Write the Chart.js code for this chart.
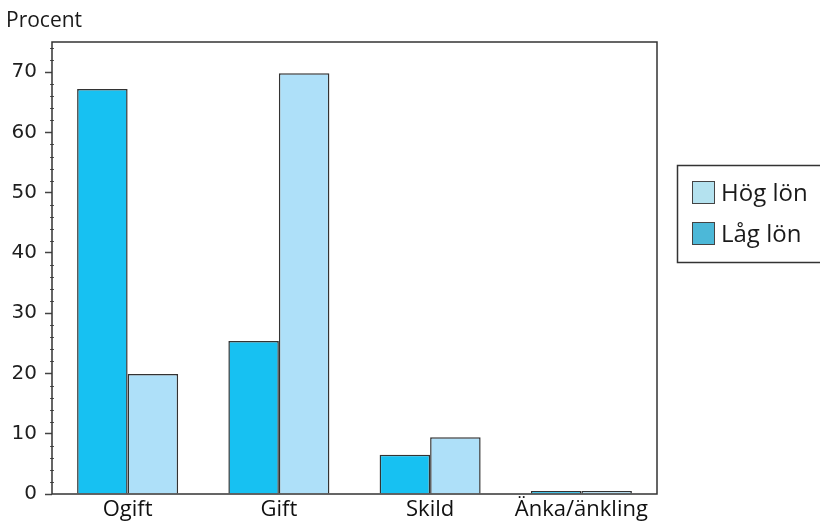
<!DOCTYPE html>
<html>
<head>
<meta charset="utf-8">
<script src="https://cdn.jsdelivr.net/npm/chart.js@4.4.1/dist/chart.umd.min.js"></script>
<style>
  html, body { margin: 0; padding: 0; background: #fff; }
  #wrap { position: relative; width: 820px; height: 525px; }
</style>
</head>
<body>
<div id="wrap"><canvas id="lonChart" width="820" height="525"></canvas></div>
<script>
// data
var categories = ['Ogift', 'Gift', 'Skild', 'Änka/änkling'];
var lagLon     = [67.2, 25.4, 6.5, 0.5];
var hogLon     = [19.9, 69.8, 9.4, 0.5];
var yTicks     = [0, 10, 20, 30, 40, 50, 60, 70];
var yTitle     = 'Procent';
var legendNames = ['Hög lön', 'Låg lön'];

// colours
var darkBlue   = '#17c1f2';
var lightBlue  = '#aee0f9';
var legendCols = ['#b4e2ef', '#4cb8d8'];
var edge       = '#333333';

// frame round the plot, minor ticks, the "Procent" label and the boxed legend
var extrasPlugin = {
  id: 'extras',
  afterDraw: function (chart) {
    var ctx = chart.ctx;
    var area = chart.chartArea;
    var y = chart.scales.y;
    ctx.save();

    // minor ticks every 2
    ctx.strokeStyle = '#555';
    ctx.lineWidth = 1;
    for (var v = 2; v < 75; v += 2) {
      if (v % 10 === 0) continue;
      var py = Math.round(y.getPixelForValue(v)) + 0.5;
      ctx.beginPath();
      ctx.moveTo(area.left - 2, py);
      ctx.lineTo(area.left + 2, py);
      ctx.stroke();
    }

    // frame
    ctx.strokeStyle = edge;
    ctx.lineWidth = 1.5;
    ctx.strokeRect(area.left, area.top, area.right - area.left, area.bottom - area.top);

    // axis title
    ctx.fillStyle = '#1a1a1a';
    ctx.font = '21px "Open Sans"';
    ctx.textBaseline = 'alphabetic';
    ctx.textAlign = 'left';
    ctx.fillText(yTitle, 6, 27);

    // legend
    ctx.strokeStyle = edge;
    ctx.lineWidth = 1.5;
    ctx.strokeRect(677.5, 165.5, 160, 97);
    ctx.font = '24px "Open Sans"';
    ctx.textBaseline = 'middle';
    for (var i = 0; i < legendNames.length; i++) {
      var top = 181 + i * 41;
      ctx.fillStyle = legendCols[i];
      ctx.fillRect(692, top, 22, 22);
      ctx.strokeStyle = '#444';
      ctx.lineWidth = 1;
      ctx.strokeRect(692.5, top + 0.5, 22, 22);
      ctx.fillStyle = '#1a1a1a';
      ctx.fillText(legendNames[i], 721, top + 13);
    }
    ctx.restore();
  }
};

var ctx = document.getElementById('lonChart').getContext('2d');
var lonChart = new Chart(ctx, {
  type: 'bar',
  data: {
    labels: categories,
    datasets: [
      {
        label          : 'Låg lön',
        data           : lagLon,
        backgroundColor: darkBlue,
        borderColor    : edge,
        borderWidth    : 1.5
      },
      {
        label          : 'Hög lön',
        data           : hogLon,
        backgroundColor: lightBlue,
        borderColor    : edge,
        borderWidth    : 1.5
      }
    ]
  },
  options: {
    responsive: false,
    animation: false,
    layout: { padding: { top: 42, right: 163, left: 0, bottom: 0 } },
    datasets: {
      bar: { categoryPercentage: 0.668, barPercentage: 1.0 }
    },
    plugins: {
      legend : { display: false },
      tooltip: { enabled: false }
    },
    scales: {
      x: {
        grid: { display: false, drawTicks: false },
        border: { display: false },
        ticks: {
          color: '#111',
          padding: 3,
          font: { family: '"Open Sans"', size: 22 }
        },
        afterFit: function (scale) { scale.height = 31; }
      },
      y: {
        min: 0,
        max: 75,
        afterBuildTicks: function (scale) {
          scale.ticks = yTicks.map(function (v) { return { value: v }; });
        },
        grid: {
          drawOnChartArea: false,
          drawTicks: true,
          tickLength: 7,
          tickColor: '#444',
          tickWidth: 1.5
        },
        border: { display: false },
        ticks: {
          color: '#1e1e1e',
          padding: 8,
          font: { family: '"DejaVu Sans"', size: 20 }
        },
        afterFit: function (scale) { scale.width = 52; }
      }
    }
  },
  plugins: [extrasPlugin]
});
</script>
</body>
</html>
